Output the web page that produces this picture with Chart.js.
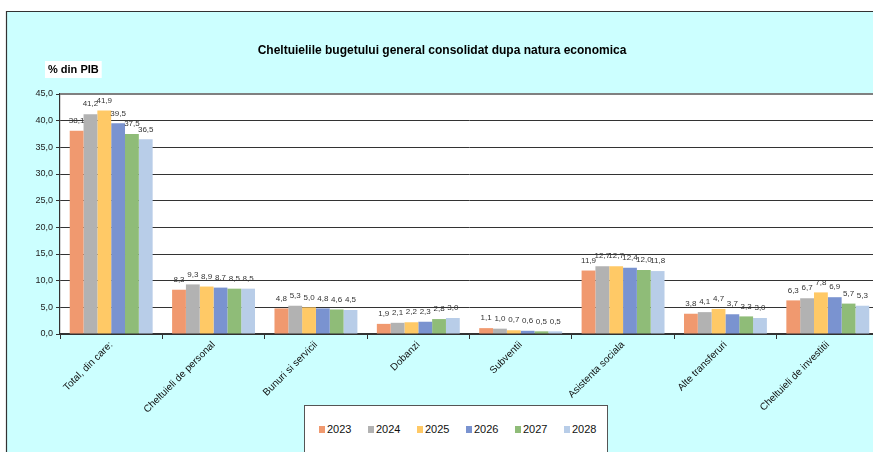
<!DOCTYPE html>
<html>
<head>
<meta charset="utf-8">
<script src="https://cdn.jsdelivr.net/npm/chart.js@4"></script>
<style>
  html, body { margin: 0; padding: 0; background: #CCFFFF; overflow: hidden; }
  #clip { position: absolute; left: 0; top: 0; width: 873px; height: 452px; overflow: hidden; }
  #wrap { position: relative; width: 885px; height: 452px; }
  #legend {
    position: absolute; left: 304px; top: 405px; width: 304px; height: 60px;
    background: #ffffff; border: 1px solid #555555; box-sizing: border-box;
    font-family: "Liberation Sans", Arial, sans-serif; font-size: 11px; color: #111;
  }
  .item { position: absolute; top: 16px; height: 14px; line-height: 14px; white-space: nowrap; }
  .sw { display: inline-block; width: 6px; height: 7px; margin-right: 2px; vertical-align: -0px; }
</style>
</head>
<body>
<div id="clip">
<div id="wrap">
  <canvas id="c"></canvas>
  <div id="legend"></div>
</div>
</div>
<script>
const categories = ['Total, din care:', 'Cheltuieli de personal', 'Bunuri si servicii', 'Dobanzi', 'Subventii', 'Asistenta sociala', 'Alte transferuri', 'Cheltuieli de investitii'];
const years = ['2023', '2024', '2025', '2026', '2027', '2028'];
const v2023 = [38.1, 8.3, 4.8, 1.9, 1.1, 11.9, 3.8, 6.3];
const v2024 = [41.2, 9.3, 5.3, 2.1, 1.0, 12.7, 4.1, 6.7];
const v2025 = [41.9, 8.9, 5.0, 2.2, 0.7, 12.7, 4.7, 7.8];
const v2026 = [39.5, 8.7, 4.8, 2.3, 0.6, 12.4, 3.7, 6.9];
const v2027 = [37.5, 8.5, 4.6, 2.8, 0.5, 12.0, 3.3, 5.7];
const v2028 = [36.5, 8.5, 4.5, 3.0, 0.5, 11.8, 3.0, 5.3];
const seriesValues = [v2023, v2024, v2025, v2026, v2027, v2028];
const colors = ['#F0996F', '#B2B2B2', '#FFC966', '#7A93D0', '#8FBC78', '#B8CDE8'];
const yMin = 0, yMax = 45, yStep = 5;
const titleText = 'Cheltuielile bugetului general consolidat dupa natura economica';
const unitText = '% din PIB';

const FONT = '"Liberation Sans", Arial, sans-serif';
Chart.defaults.font.family = FONT;
Chart.defaults.color = '#222';

const fmt = v => v.toFixed(1).replace('.', ',');

const bgPlugin = {
  id: 'bg',
  beforeDraw(chart) {
    const ctx = chart.ctx, W = chart.width, H = chart.height, a = chart.chartArea;
    ctx.save();
    ctx.fillStyle = '#ffffff';
    ctx.fillRect(0, 0, W, H);
    ctx.fillStyle = '#CCFFFF';
    ctx.fillRect(6, 11, W - 6, H - 11);
    ctx.strokeStyle = '#333';
    ctx.lineWidth = 1.2;
    ctx.beginPath();
    ctx.moveTo(6.5, H); ctx.lineTo(6.5, 11.5); ctx.lineTo(W, 11.5);
    ctx.stroke();
    ctx.fillStyle = '#ffffff';
    ctx.fillRect(a.left, a.top, a.right - a.left, a.bottom - a.top);
    ctx.fillStyle = '#000';
    ctx.font = 'bold 12px ' + FONT;
    ctx.textAlign = 'center';
    ctx.textBaseline = 'middle';
    ctx.fillText(titleText, 442, 51);
    ctx.font = 'bold 11px ' + FONT;
    const tw = ctx.measureText(unitText).width;
    ctx.fillStyle = '#ffffff';
    ctx.fillRect(45, 61, tw + 6, 17);
    ctx.fillStyle = '#000';
    ctx.textAlign = 'left';
    ctx.fillText(unitText, 48, 70);
    ctx.restore();
  },
  afterDatasetsDraw(chart) {
    const ctx = chart.ctx, a = chart.chartArea;
    ctx.save();
    ctx.strokeStyle = '#808080';
    ctx.lineWidth = 2;
    ctx.beginPath();
    ctx.moveTo(a.left, a.top); ctx.lineTo(a.right, a.top);
    ctx.stroke();
    ctx.fillStyle = '#333';
    ctx.font = '8px ' + FONT;
    ctx.textAlign = 'center';
    ctx.textBaseline = 'middle';
    chart.data.datasets.forEach((ds, i) => {
      const meta = chart.getDatasetMeta(i);
      meta.data.forEach((bar, j) => {
        ctx.fillText(fmt(ds.data[j]), bar.x, bar.y - 10);
      });
    });
    ctx.restore();
  }
};

const chart = new Chart(document.getElementById('c'), {
  type: 'bar',
  data: {
    labels: categories,
    datasets: years.map((y, i) => ({
      label: y,
      data: seriesValues[i],
      backgroundColor: colors[i],
      borderWidth: 0,
      categoryPercentage: 0.81,
      barPercentage: 1.0
    }))
  },
  options: {
    responsive: true,
    maintainAspectRatio: false,
    animation: false,
    layout: { padding: { top: 94, left: 0, right: 6, bottom: 0 } },
    plugins: { legend: { display: false }, title: { display: false }, tooltip: { enabled: false } },
    scales: {
      x: {
        afterFit(s) { s.height = 118; },
        grid: { display: true, drawOnChartArea: false, offset: true, color: '#333', tickLength: 5, tickColor: '#333' },
        border: { display: true, color: '#333', width: 1.2 },
        ticks: { minRotation: 45, maxRotation: 45, autoSkip: false, font: { size: 10 }, color: '#111', padding: 0 }
      },
      y: {
        min: yMin, max: yMax,
        afterFit(s) { s.width = 60; },
        grid: { color: '#333', lineWidth: 1, tickLength: 4, tickColor: '#333' },
        border: { display: true, color: '#333', width: 1.2 },
        ticks: { stepSize: yStep, font: { size: 9 }, color: '#222', padding: 3, callback: v => fmt(v) }
      }
    }
  },
  plugins: [bgPlugin]
});

const lg = document.getElementById('legend');
years.forEach((y, i) => {
  const d = document.createElement('div');
  d.className = 'item';
  d.style.left = (14 + i * 49) + 'px';
  d.innerHTML = '<span class="sw" style="background:' + colors[i] + '"></span>' + y;
  lg.appendChild(d);
});
</script>
</body>
</html>
